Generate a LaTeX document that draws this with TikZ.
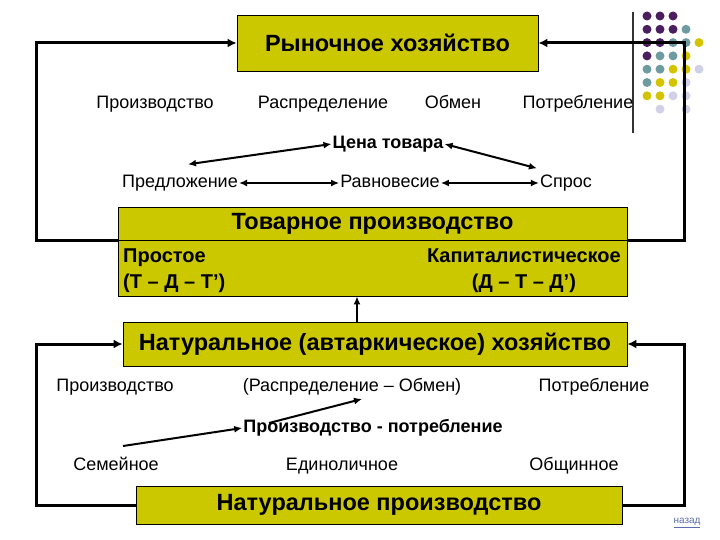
\documentclass[tikz,border=0pt]{standalone}
\usepackage{fontspec}
\setmainfont{Liberation Sans}
\usetikzlibrary{arrows.meta,positioning}
\definecolor{boxfill}{RGB}{204,200,0}
\definecolor{dotpurple}{RGB}{75,30,95}
\definecolor{dotteal}{RGB}{110,155,160}
\definecolor{dotyellow}{RGB}{212,196,0}
\definecolor{dotlilac}{RGB}{208,208,230}
\definecolor{linkblue}{RGB}{90,110,170}

\begin{document}
\begin{tikzpicture}[x=1pt,y=-1pt]
\tikzset{
  econbox/.style={draw,thick,fill=boxfill,inner sep=0pt,font=\bfseries\fontsize{23.5}{28}\selectfont},
  plainlabel/.style={inner sep=1pt,text height=13pt,text depth=4pt,font=\fontsize{18}{21}\selectfont},
  boldlabel/.style={inner sep=1pt,text height=13pt,text depth=4pt,font=\bfseries\fontsize{18}{21}\selectfont},
  kindlabel/.style={inner sep=1pt,font=\bfseries\fontsize{20}{26}\selectfont},
  loopline/.style={-{Latex[length=9pt,width=9pt]},line width=3pt},
  thinarrow/.style={-{Latex[length=8pt,width=7pt]},line width=2pt},
  bothways/.style={{Latex[length=8pt,width=7pt]}-{Latex[length=8pt,width=7pt]},line width=2pt}
}
\useasboundingbox (0,0) rectangle (720,540);
% slide decoration
\draw[line width=1.2pt,black!80] (633,12) -- (633,133);
\foreach \col/\row/\clr in {0/0/dotpurple,1/0/dotpurple,2/0/dotpurple,
    0/1/dotpurple,1/1/dotpurple,2/1/dotpurple,3/1/dotteal,
    0/2/dotpurple,1/2/dotpurple,2/2/dotteal,3/2/dotteal,4/2/dotyellow,
    0/3/dotpurple,1/3/dotteal,2/3/dotteal,3/3/dotyellow,
    0/4/dotteal,1/4/dotteal,2/4/dotyellow,3/4/dotyellow,4/4/dotlilac,
    0/5/dotteal,1/5/dotyellow,2/5/dotyellow,3/5/dotlilac,
    0/6/dotyellow,1/6/dotyellow,2/6/dotlilac,3/6/dotlilac,
    1/7/dotlilac,3/7/dotlilac}
  \fill[\clr] ({647+13*\col},{16+13.3*\row}) circle (4.5);

% market economy
\node[econbox,minimum width=301pt,minimum height=56pt] (rynok) at (387.5,43) {Рыночное хозяйство};
\node[plainlabel] (proizv) at (155,104) {Производство};
\node[plainlabel] (raspr) at (323,104) {Распределение};
\node[plainlabel] (obmen) at (453,104) {Обмен};
\node[plainlabel] (potr) at (578,104) {Потребление};
\node[boldlabel] (tsena) at (388,144) {Цена товара};
\node[plainlabel] (predl) at (180,183) {Предложение};
\node[plainlabel] (ravn) at (390,183) {Равновесие};
\node[plainlabel] (spros) at (566,183) {Спрос};
\draw[bothways] ([xshift=8pt,yshift=9pt]predl.north) -- (tsena.west);
\draw[bothways] (tsena.east) -- ([xshift=-2pt,yshift=5pt]spros.north west);
\draw[bothways] (predl.east) -- (ravn.west);
\draw[bothways] (ravn.east) -- (spros.west);

% commodity production
\node[econbox,minimum width=509pt,minimum height=33pt] (tovtitle) at (372.5,223.5) {Товарное производство};
\node[econbox,minimum width=509pt,minimum height=56pt] (tovbody) at (372.5,268) {};
\node[kindlabel,anchor=north west,align=left] (prostoe) at (122,248) {Простое\\(Т – Д – Т’)};
\node[kindlabel,anchor=north east,align=center] (kapit) at (622,248) {Капиталистическое\\(Д – Т – Д’)};
\draw[loopline] (tovtitle.south west) -- ++(-81,0) |- (rynok.west);
\draw[loopline] (tovtitle.south east) -- ++(57,0) |- (rynok.east);

% natural economy
\node[econbox,minimum width=504pt,minimum height=44pt] (avtark) at (375,344) {Натуральное (автаркическое) хозяйство};
\draw[thinarrow] ([xshift=-18pt]avtark.north) -- ([xshift=-18pt]avtark.north |- tovbody.south);
\node[plainlabel] (nproizv) at (115,387) {Производство};
\node[plainlabel] (nraspr) at (352,387) {(Распределение – Обмен)};
\node[plainlabel] (npotr) at (594,387) {Потребление};
\node[boldlabel] (prodpotr) at (373,428) {Производство - потребление};
\coordinate (semstart) at (123,446);
\coordinate (rdstart) at (269,423);
\coordinate (rdend) at (362,399);
\draw[thinarrow] (semstart) -- (prodpotr.west);
\draw[thinarrow] (rdstart) -- (rdend);
\node[plainlabel] (semya) at (116,466) {Семейное};
\node[plainlabel] (edinol) at (342,466) {Единоличное};
\node[plainlabel] (obshch) at (574,466) {Общинное};
\node[econbox,minimum width=486pt,minimum height=38pt] (natprod) at (379,505) {Натуральное производство};
\draw[loopline] (natprod.west) -- ++(-99,0) |- (avtark.west);
\draw[loopline] (natprod.east) -- ++(62,0) |- (avtark.east);
\node[font=\fontsize{10}{12}\selectfont,text=linkblue,inner sep=0pt] (nazad) at (687,523) {\underline{назад}};
\end{tikzpicture}
\end{document}
